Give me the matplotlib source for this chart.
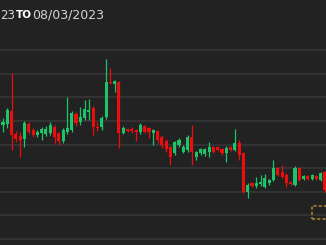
import matplotlib.pyplot as plt
from matplotlib.patches import Rectangle

# OHLC values (arbitrary price units, grid step = 10)
opens = [148.3, 148.7, 154.2, 144.5, 143.6, 142.4, 148.7, 146.2, 144.1, 144.9,
         144.5, 144.9, 147.5, 144.9, 141.5, 145.3, 146.2, 153.0, 149.6, 151.3,
         153.8, 155.5, 147.5, 147.5, 151.7, 166.5, 165.7, 166.5, 144.9, 146.6,
         146.6, 146.2, 145.3, 147.9, 147.0, 144.9, 145.8, 143.2, 141.5, 139.0,
         136.4, 139.8, 136.9, 137.7, 143.2, 134.7, 136.4, 136.0, 136.9, 139.0,
         139.0, 138.1, 136.4, 139.0, 137.7, 140.7, 136.4, 119.9, 123.7, 122.5,
         123.3, 122.0, 123.7, 125.0, 130.1, 128.4, 127.1, 124.2, 122.9, 130.1,
         125.4, 126.7, 125.4, 126.7, 125.0, 128.4]
closes = [149.6, 154.7, 144.1, 142.4, 141.9, 149.1, 145.3, 144.1, 145.3, 146.6,
          146.6, 148.3, 143.2, 141.5, 146.2, 147.0, 153.4, 149.1, 151.7, 155.1,
          154.7, 147.5, 147.0, 151.3, 166.5, 166.1, 166.9, 144.9, 147.0, 145.8,
          145.8, 145.3, 148.3, 145.3, 145.3, 146.2, 141.9, 139.8, 138.1, 134.7,
          141.1, 141.9, 139.0, 143.2, 136.9, 136.9, 138.1, 138.1, 139.0, 136.9,
          137.7, 136.4, 138.6, 137.7, 140.7, 135.6, 119.9, 122.9, 122.5, 123.7,
          124.2, 125.8, 125.0, 130.1, 127.1, 126.3, 123.7, 123.3, 130.1, 125.0,
          126.7, 125.4, 127.1, 125.4, 128.0, 120.8]
highs = [151.3, 155.5, 170.3, 145.8, 145.3, 150.0, 149.6, 147.0, 146.2, 147.5,
         147.9, 149.6, 148.3, 145.3, 147.0, 160.2, 154.2, 153.8, 155.9, 158.9,
         159.3, 156.4, 149.6, 152.1, 176.3, 172.5, 167.4, 166.9, 147.9, 147.0,
         147.5, 146.6, 149.1, 148.3, 147.5, 146.6, 146.2, 144.1, 142.4, 139.4,
         141.5, 142.8, 139.8, 144.1, 148.3, 137.3, 138.6, 138.6, 141.1, 139.4,
         139.4, 138.6, 139.4, 139.4, 146.6, 141.9, 136.9, 123.7, 124.2, 126.3,
         127.1, 127.5, 125.4, 133.5, 130.5, 131.4, 128.0, 124.6, 130.9, 130.5,
         127.1, 127.1, 127.5, 127.1, 128.4, 128.8]
lows = [145.3, 147.0, 137.7, 141.1, 134.7, 139.0, 144.5, 143.2, 143.2, 141.9,
        143.6, 144.1, 140.7, 139.8, 140.7, 144.5, 145.3, 147.9, 148.3, 150.4,
        150.4, 144.1, 145.8, 146.2, 150.8, 165.7, 162.3, 138.6, 144.5, 145.3,
        144.9, 141.5, 144.5, 144.9, 142.8, 139.8, 140.7, 138.6, 136.9, 131.4,
        135.6, 139.0, 136.4, 136.9, 131.4, 133.5, 135.6, 135.2, 134.7, 136.4,
        137.3, 135.6, 132.6, 137.3, 137.3, 133.5, 119.5, 117.4, 122.0, 121.6,
        122.5, 121.6, 122.9, 124.6, 126.7, 125.8, 122.0, 122.9, 122.5, 124.6,
        125.0, 125.0, 125.0, 125.0, 124.6, 119.9]

bg = '#222222'
up_col = '#1ec46a'
down_col = '#ec0d0d'

fig = plt.figure(figsize=(3.26, 2.45), dpi=100)
fig.patch.set_facecolor(bg)
ax = fig.add_axes([0, 0, 1, 1])
ax.set_facecolor(bg)

for i in range(len(opens)):
    o, c, h, l = opens[i], closes[i], highs[i], lows[i]
    col = up_col if c >= o else down_col
    ax.vlines(i, l, h, color=col, linewidth=0.9)
    ax.add_patch(Rectangle((i - 0.36, min(o, c)), 0.72, max(abs(c - o), 0.3),
                           facecolor=col, edgecolor='none'))

ax.set_xlim(-0.7, len(opens) - 0.77)
ax.set_ylim(97.5, 201.3)
ax.set_yticks(range(100, 190, 10))
ax.grid(axis='y', color='#363636', linewidth=1.2)
ax.set_axisbelow(True)
ax.tick_params(left=False, bottom=False, labelleft=False, labelbottom=False)
for s in ax.spines.values():
    s.set_visible(False)

# header
fig.text(0.0, 0.938, '23', color='#d4d4d4', fontsize=8.5, va='center')
fig.text(0.05, 0.938, 'TO', color='#ffffff', fontsize=7.5, fontweight='bold', va='center')
fig.text(0.099, 0.938, '08/03/2023', color='#d4d4d4', fontsize=9, va='center')

# watermark logo corner
ax.add_patch(Rectangle((0.956, 0.105), 0.05, 0.055, transform=fig.transFigure,
                       facecolor='none', edgecolor='#8a7230', linewidth=1.5,
                       linestyle=(0, (1.5, 1))))

fig.savefig('out.png', dpi=100, facecolor=bg)
